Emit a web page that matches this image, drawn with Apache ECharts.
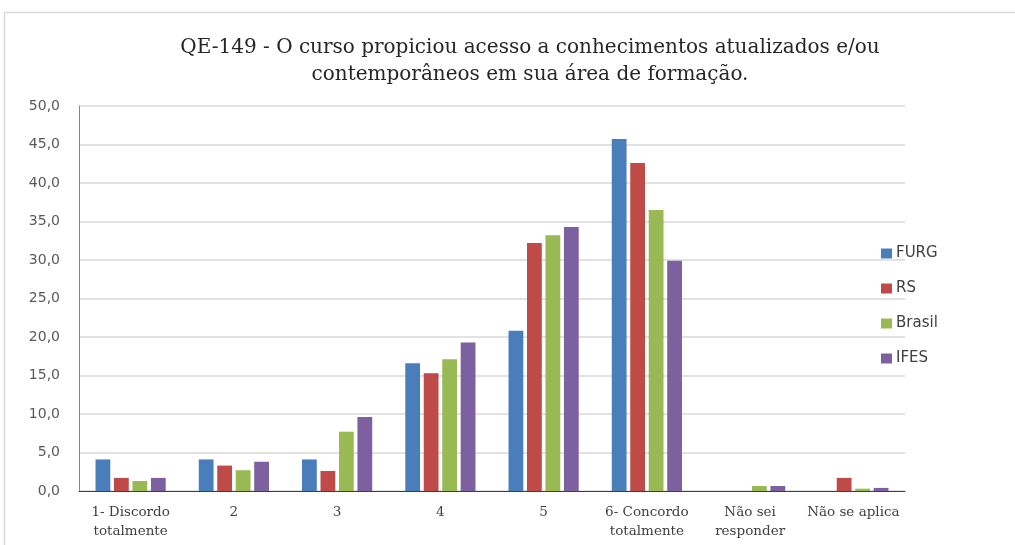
<!DOCTYPE html>
<html><head><meta charset="utf-8">
<script src="https://cdn.jsdelivr.net/npm/echarts@6/dist/echarts.min.js"></script>
<style>html,body{margin:0;padding:0;background:#fff}#c{width:1015px;height:545px}</style>
</head><body><div id="c"></div>
<script>
const categories = ["1- Discordo\ntotalmente","2","3","4","5","6- Concordo\ntotalmente","Não sei\nresponder","Não se aplica"];
const furg   = [4.1, 4.1, 4.1, 16.6, 20.8, 45.7, 0, 0];
const rs     = [1.7, 3.3, 2.6, 15.3, 32.2, 42.6, 0, 1.7];
const brasil = [1.3, 2.7, 7.7, 17.1, 33.2, 36.5, 0.65, 0.3];
const ifes   = [1.7, 3.8, 9.6, 19.3, 34.3, 29.9, 0.65, 0.4];
const seriesNames = ["FURG","RS","Brasil","IFES"];
const colors = ["#4a7ebb","#be4b48","#98b954","#7d60a0"];
const titleText = "QE-149 - O curso propiciou acesso a conhecimentos atualizados e/ou\ncontemporâneos em sua área de formação.";

const chart = echarts.init(document.getElementById('c'));
const data = [furg, rs, brasil, ifes];
chart.setOption({
  animation: false,
  color: colors,
  graphic: [{type:'rect', shape:{x:4.5,y:12.5,width:1100,height:600}, style:{fill:'none',stroke:'#d9d9d9',lineWidth:1.5}, silent:true}],
  title: {text: titleText, left: 525, textAlign:'center', top: 29,
    textStyle:{fontFamily:'DejaVu Serif', fontSize:20, fontWeight:'normal', color:'#262626', lineHeight:27}},
  legend: {orient:'vertical', left: 876, top: 241, itemWidth:11, itemHeight:10, itemGap:20, icon:'rect',
    textStyle:{fontFamily:'DejaVu Sans', fontSize:15, color:'#404040', padding:[0,0,0,-1]}},
  grid: {left:79, right:110, top:106, bottom:54, containLabel:false},
  xAxis: {type:'category', data: categories,
    axisLine:{lineStyle:{color:'#404040', width:1}}, axisTick:{show:false},
    axisLabel:{interval:0, fontFamily:'DejaVu Serif', fontSize:13.5, color:'#404040', lineHeight:19, margin:12}},
  yAxis: {type:'value', min:0, max:50, interval:5,
    axisLine:{show:true, lineStyle:{color:'#868686'}}, axisTick:{show:false},
    splitLine:{lineStyle:{color:'#d9d9d9', width:1.5}},
    axisLabel:{fontFamily:'DejaVu Sans', fontSize:14, color:'#595959', margin:19,
      formatter: v => v.toFixed(1).replace('.', ',')}},
  series: data.map((d,i)=>({name:seriesNames[i], type:'bar', data:d, barCategoryGap:'32%', barGap:'25%'}))
});
</script></body></html>
